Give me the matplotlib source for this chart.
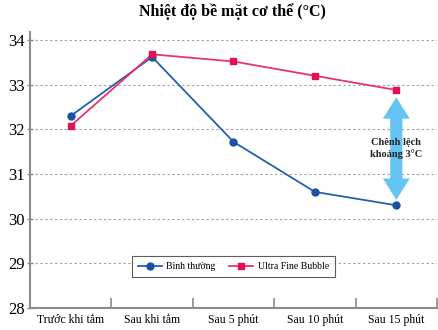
import matplotlib
matplotlib.use("Agg")
import matplotlib.pyplot as plt
from matplotlib.patches import Polygon

CATEGORIES = ["Trước khi tắm", "Sau khi tắm", "Sau 5 phút", "Sau 10 phút", "Sau 15 phút"]
BINH_THUONG = [32.3, 33.62, 31.72, 30.6, 30.3]
ULTRA_FINE = [32.08, 33.68, 33.52, 33.2, 32.88]
Y_TICKS = [28, 29, 30, 31, 32, 33, 34]

BLUE = "#2460ad"
PINK = "#e8336c"
ARROW = "#66c4f5"
GRAY = "#8f8a88"

plt.rcParams["font.family"] = ["Liberation Serif", "DejaVu Serif"]


def double_arrow(ax, xc, y_top, y_bot, shaft=0.075, head=0.165, head_len=0.48, **kw):
    pts = [
        (xc, y_top),
        (xc + head, y_top - head_len),
        (xc + shaft, y_top - head_len),
        (xc + shaft, y_bot + head_len),
        (xc + head, y_bot + head_len),
        (xc, y_bot),
        (xc - head, y_bot + head_len),
        (xc - shaft, y_bot + head_len),
        (xc - shaft, y_top - head_len),
        (xc - head, y_top - head_len),
    ]
    ax.add_patch(Polygon(pts, closed=True, lw=0, **kw))


fig = plt.figure(figsize=(4.38, 3.30), dpi=100)
ax = fig.add_axes([30 / 438, 22 / 330, 407 / 438, 276 / 330])

x = list(range(len(CATEGORIES)))
ax.plot(x, BINH_THUONG, color=BLUE, lw=1.3, marker="o", ms=5,
        mfc="#1a52a0", mec="#1a52a0", label="Bình thường", zorder=3)
ax.plot(x, ULTRA_FINE, color=PINK, lw=1.3, marker="s", ms=5,
        mfc="#e0105a", mec="#e0105a", label="Ultra Fine Bubble", zorder=3)

ax.set_xlim(-0.5, len(CATEGORIES) - 0.5)
ax.set_ylim(28, 34.18)
ax.set_yticks(Y_TICKS)
ax.set_yticklabels([str(v) for v in Y_TICKS], fontsize=12)
ax.grid(axis="y", color="#a5a5a5", ls=(0, (2.2, 2.2)), lw=0.8)
ax.set_axisbelow(True)

ax.set_xticks(x)
ax.set_xticklabels(CATEGORIES, fontsize=8.5)
ax.tick_params(axis="x", which="major", length=0, pad=4)
ax.set_xticks([i + 0.5 for i in x], minor=True)
ax.tick_params(axis="x", which="minor", direction="in", length=7, width=1.2, color=GRAY)
ax.tick_params(axis="y", direction="inout", length=5, width=1, color=GRAY, pad=1)

for s in ["top", "right"]:
    ax.spines[s].set_visible(False)
for s in ["left", "bottom"]:
    ax.spines[s].set_color(GRAY)
    ax.spines[s].set_linewidth(1.5)

double_arrow(ax, 4, 32.72, 30.42, color=ARROW, zorder=2)
ax.text(4, 31.57, "Chênh lệch\nkhoảng 3°C", ha="center", va="center", fontsize=7.5,
        fontweight="bold", color="#222222", zorder=4, linespacing=1.25)

leg = ax.legend(loc="center", bbox_to_anchor=(0.5, 0.15), ncol=2, fontsize=7,
                frameon=True, fancybox=False, edgecolor="#333333", handlelength=2.4,
                columnspacing=1.4, borderpad=0.6, handletextpad=0.5)
leg.get_frame().set_linewidth(0.8)

fig.suptitle("Nhiệt độ bề mặt cơ thể (°C)", x=232 / 438, y=0.99, fontsize=11.5, fontweight="bold")

fig.savefig("out.png", dpi=100)
